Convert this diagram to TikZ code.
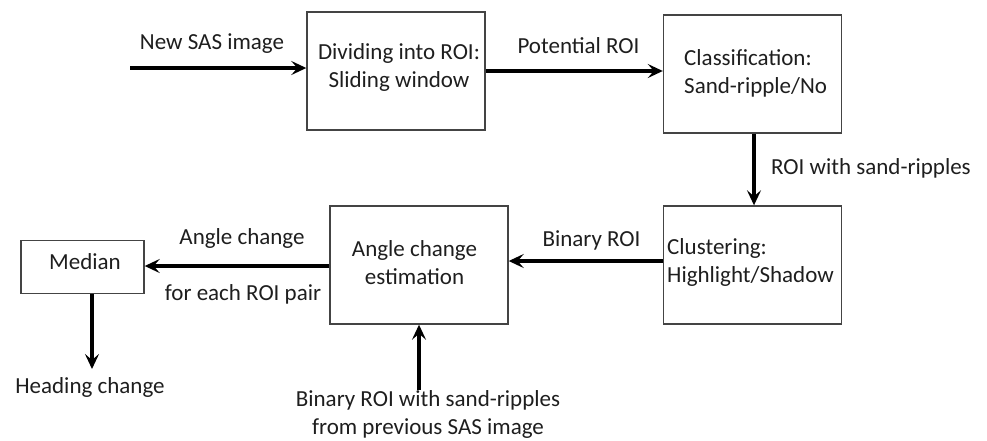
\documentclass[tikz,border=0pt]{standalone}
\usepackage{fontspec}
\setmainfont{Carlito}
\usetikzlibrary{arrows.meta}
\definecolor{txt}{HTML}{1E1E1E}
\definecolor{edge}{HTML}{444444}
\begin{document}
\begin{tikzpicture}[x=1pt,y=-1pt,
  box/.style={draw=edge, line width=1.4pt, minimum width=178pt, minimum height=118pt, inner sep=0pt},
  lbl/.style={text=txt, font=\fontsize{23}{28}\selectfont, inner sep=0pt, align=center},
  lbll/.style={text=txt, font=\fontsize{23}{28}\selectfont, inner sep=0pt, align=left, anchor=west},
  arr/.style={line width=3.3pt, -{Stealth[length=15pt,width=14pt,inset=6pt]}}]
\useasboundingbox (0,0) rectangle (987,440);
% boxes
\node[box] (div) at (396,71) {};
\node[box] (cls) at (752.5,74) {};
\node[box] (clu) at (752.5,265) {};
\node[box] (ang) at (419,265) {};
\node[box, minimum width=123pt, minimum height=53pt] (med) at (82.5,267) {};
% box texts
\node[lbl] (divt) at (399,67) {Dividing into ROI:\\Sliding window};
\node[lbll] (clst) at (684,73) {Classification:\\Sand-ripple/No};
\node[lbll] (clut) at (667,262) {Clustering:\\Highlight/Shadow};
\node[lbl] (angt) at (414.5,263) {Angle change\\estimation};
\node[lbl] (medt) at (85,262) {Median};
% coordinates
\coordinate (in) at (130,68);
\coordinate (prev) at (419,390);
\coordinate (mout) at (92,293.5);
\coordinate (hc) at (92,369);
% connectors
\draw[arr] (in) -- (in -| div.west);
\draw[arr] (div.east |- 0,71) -- (cls.west |- 0,71);
\draw[arr] (cls.south -| 754,0) -- (clu.north -| 754,0);
\draw[arr] (clu.west |- 0,261) -- (ang.east |- 0,261);
\draw[arr] (ang.west |- 0,266) -- (med.east |- 0,266);
\draw[arr] (mout) -- (hc);
\draw[arr] (prev) -- (ang.south);
% labels
\node[lbl] (l1) at (212,44) {New SAS image};
\node[lbl] (l2) at (578.5,46) {Potential ROI};
\node[lbl] (l3) at (871,168) {ROI with sand-ripples};
\node[lbl] (l4) at (591.5,240) {Binary ROI};
\node[lbl] (l5) at (242,238) {Angle change};
\node[lbl] (l6) at (243,294) {for each ROI pair};
\node[lbl] (l7) at (90,387) {Heading change};
\node[lbl] (l8) at (428,414) {Binary ROI with sand-ripples\\from previous SAS image};
\end{tikzpicture}
\end{document}
